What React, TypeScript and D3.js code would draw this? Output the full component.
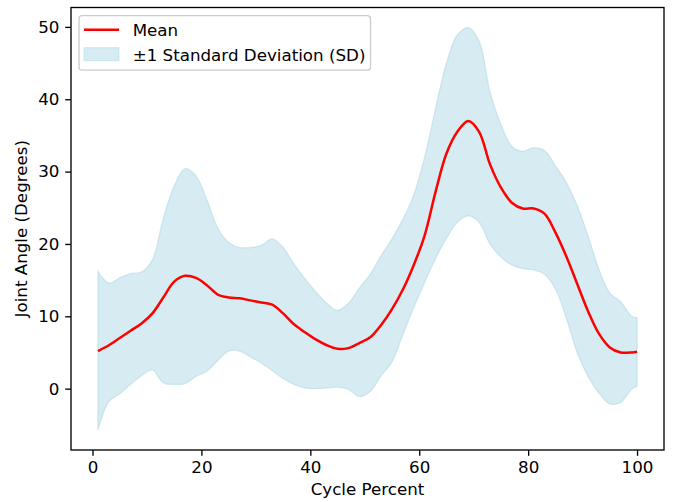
//@ts-nocheck
import React, { useEffect, useRef } from "react";
import * as d3 from "d3";

// cycle percent sample points
const cycle = [
  1, 3, 5, 7, 9, 11, 13, 15, 17, 19, 21, 23, 25, 27, 29, 31, 33, 35, 37, 39,
  41, 43, 45, 47, 49, 51, 53, 55, 57, 59, 61, 63, 65, 67, 69, 71, 73, 75, 77,
  79, 81, 83, 85, 87, 89, 91, 93, 95, 97, 99, 100,
];

const meanAngle = [
  5.2, 6.0, 7.0, 8.0, 9.0, 10.4, 12.6, 14.8, 15.6, 15.3, 14.3, 13.0, 12.6,
  12.5, 12.2, 11.9, 11.6, 10.4, 8.9, 7.8, 6.8, 6.0, 5.5, 5.6, 6.3, 7.1, 8.8,
  11.0, 13.7, 17.1, 21.2, 27.2, 32.5, 35.5, 37.0, 35.5, 31.0, 27.8, 25.7,
  24.9, 24.9, 24.2, 21.6, 18.3, 14.5, 10.7, 7.6, 5.7, 5.0, 5.0, 5.1,
];

const upperSD = [
  16.2, 14.6, 15.3, 15.9, 16.1, 17.8, 23.5, 28.0, 30.4, 29.4, 26.1, 22.2,
  20.2, 19.5, 19.5, 19.8, 20.7, 19.5, 17.2, 15.2, 13.4, 11.8, 10.8, 11.8,
  13.9, 15.8, 18.4, 20.7, 23.4, 26.8, 32.0, 38.7, 45.0, 48.9, 49.9, 48.0,
  41.0, 36.5, 33.5, 32.8, 33.3, 32.9, 30.8, 28.5, 25.3, 21.1, 16.5, 13.2,
  12.0, 10.0, 9.8,
];

const lowerSD = [
  -5.7, -1.8, -0.7, 0.6, 1.8, 2.6, 0.8, 0.6, 0.7, 1.7, 2.4, 3.9, 5.2, 5.2,
  4.4, 3.5, 2.5, 1.4, 0.6, 0.1, 0.0, 0.1, 0.2, -0.1, -1.1, -0.4, 1.8, 3.7,
  7.5, 11.2, 14.7, 18.0, 20.8, 23.0, 23.9, 23.0, 20.0, 18.2, 17.1, 16.6,
  16.4, 15.8, 13.8, 9.8, 5.0, 1.7, -0.6, -2.1, -1.9, -0.1, 0.3,
];

const xTicks = [0, 20, 40, 60, 80, 100];
const yTicks = [0, 10, 20, 30, 40, 50];

const W = 677;
const H = 502;
const margin = { top: 7.5, right: 13, bottom: 52, left: 71 };
const FONT = "DejaVu Sans, sans-serif";
const FS = 16.7;

export default function App() {
  const svgRef = useRef<SVGSVGElement>(null);

  useEffect(() => {
    const svg = d3.select(svgRef.current);
    svg.selectAll("*").remove();

    const innerW = W - margin.left - margin.right;
    const innerH = H - margin.top - margin.bottom;

    const allVals = lowerSD.concat(upperSD, meanAngle);
    const yMin = d3.min(allVals), yMax = d3.max(allVals);
    const xPad = (d3.max(cycle) - d3.min(cycle)) * 0.05;
    const yPad = (yMax - yMin) * 0.05;

    const x = d3
      .scaleLinear()
      .domain([d3.min(cycle) - xPad, d3.max(cycle) + xPad])
      .range([0, innerW]);
    const y = d3
      .scaleLinear()
      .domain([yMin - yPad, yMax + yPad])
      .range([innerH, 0]);

    const g = svg
      .append("g")
      .attr("transform", `translate(${margin.left},${margin.top})`);

    const rows = cycle.map((c, i) => ({
      c,
      m: meanAngle[i],
      lo: lowerSD[i],
      hi: upperSD[i],
    }));

    const curve = d3.curveCatmullRom.alpha(0.5);

    // SD band
    const band = d3
      .area()
      .x((d) => x(d.c))
      .y0((d) => y(d.lo))
      .y1((d) => y(d.hi))
      .curve(curve);
    g.append("path")
      .datum(rows)
      .attr("d", band)
      .attr("fill", "lightblue")
      .attr("fill-opacity", 0.5)
      .attr("stroke", "lightblue")
      .attr("stroke-opacity", 0.5)
      .attr("stroke-width", 1.3);

    // mean line
    const line = d3
      .line()
      .x((d) => x(d.c))
      .y((d) => y(d.m))
      .curve(curve);
    g.append("path")
      .datum(rows)
      .attr("d", line)
      .attr("fill", "none")
      .attr("stroke", "red")
      .attr("stroke-width", 2.5)
      .attr("stroke-linejoin", "round");

    // axes
    const xAxis = g
      .append("g")
      .attr("transform", `translate(0,${innerH})`)
      .call(d3.axisBottom(x).tickValues(xTicks).tickSize(5.8).tickPadding(5.3).tickSizeOuter(0));
    const yAxis = g
      .append("g")
      .call(d3.axisLeft(y).tickValues(yTicks).tickSize(5.8).tickPadding(5.8).tickSizeOuter(0));
    [xAxis, yAxis].forEach((a) => {
      a.select(".domain").remove();
      a.selectAll("line").attr("stroke", "#000").attr("stroke-width", 1.33);
      a.selectAll("text")
        .attr("fill", "#000")
        .attr("font-family", FONT)
        .attr("font-size", FS);
    });

    // frame
    g.append("rect")
      .attr("width", innerW)
      .attr("height", innerH)
      .attr("fill", "none")
      .attr("stroke", "#000")
      .attr("stroke-width", 1.33);

    // axis labels
    svg
      .append("text")
      .attr("x", margin.left + innerW / 2)
      .attr("y", 495)
      .attr("text-anchor", "middle")
      .attr("font-family", FONT)
      .attr("font-size", FS)
      .text("Cycle Percent");
    svg
      .append("text")
      .attr("transform", `translate(27,${margin.top + innerH / 2}) rotate(-90)`)
      .attr("text-anchor", "middle")
      .attr("font-family", FONT)
      .attr("font-size", FS)
      .text("Joint Angle (Degrees)");

    // legend
    const lg = svg.append("g").attr("transform", "translate(79,15.7)");
    lg.append("rect")
      .attr("width", 291.5)
      .attr("height", 54.5)
      .attr("rx", 3)
      .attr("fill", "#fff")
      .attr("fill-opacity", 0.8)
      .attr("stroke", "#ccc")
      .attr("stroke-width", 1.33);
    lg.append("line")
      .attr("x1", 5)
      .attr("x2", 40)
      .attr("y1", 14)
      .attr("y2", 14)
      .attr("stroke", "red")
      .attr("stroke-width", 2.5);
    lg.append("rect")
      .attr("x", 5)
      .attr("y", 32)
      .attr("width", 35)
      .attr("height", 13)
      .attr("fill", "lightblue")
      .attr("fill-opacity", 0.5)
      .attr("stroke", "lightblue")
      .attr("stroke-opacity", 0.5);
    lg.append("text")
      .attr("x", 53.7)
      .attr("y", 20)
      .attr("font-family", FONT)
      .attr("font-size", FS)
      .text("Mean");
    lg.append("text")
      .attr("x", 53.7)
      .attr("y", 45)
      .attr("font-family", FONT)
      .attr("font-size", FS)
      .text("±1 Standard Deviation (SD)");
  }, []);

  return (
    <svg
      ref={svgRef}
      width={W}
      height={H}
      style={{ position: "absolute", left: 0, top: 0, background: "#fff" }}
    ></svg>
  );
}
